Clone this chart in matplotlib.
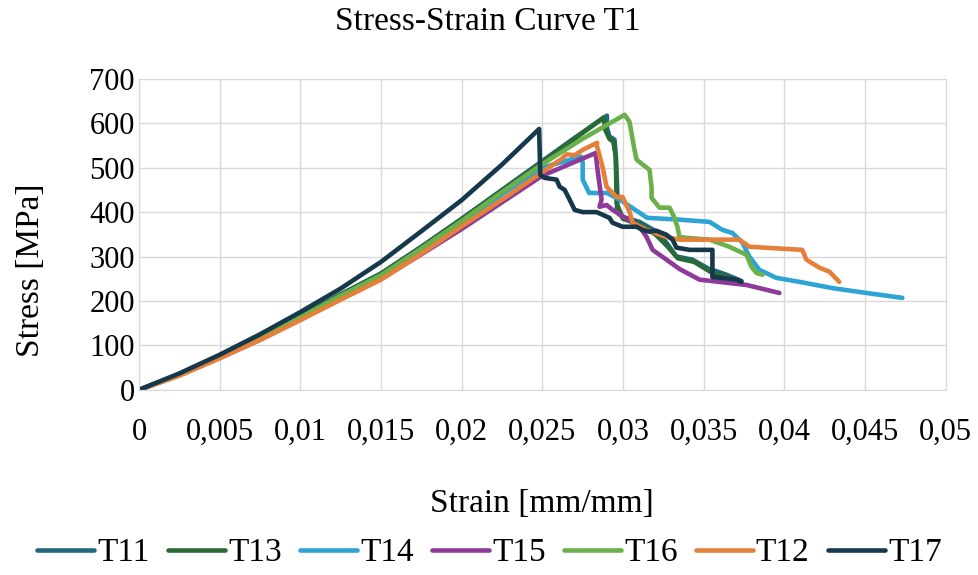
import matplotlib
matplotlib.use("Agg")
import matplotlib.pyplot as plt

plt.rcParams['font.family'] = ['Liberation Serif', 'DejaVu Serif']

# strain [mm/mm] and stress [MPa] for each specimen
t11_strain = [0, 0.0025, 0.005, 0.0075, 0.01, 0.0125, 0.015, 0.0175, 0.02, 0.0225, 0.025, 0.027, 0.029,
              0.0290, 0.02916, 0.02947, 0.02954, 0.0296, 0.02966, 0.0296, 0.02997, 0.03102, 0.03207,
              0.03269, 0.03331, 0.0343, 0.03533, 0.03554, 0.03641, 0.03734]
t11_stress = [0, 35, 76, 118, 165, 215, 262, 322, 385, 450, 515, 567, 617,
              590, 570, 563, 533, 488, 428, 400, 389, 378, 356,
              331, 300, 293, 272, 270, 259, 245]

t13_strain = [0, 0.0025, 0.005, 0.0075, 0.01, 0.0125, 0.015, 0.0175, 0.02, 0.0225, 0.025, 0.027, 0.0288,
              0.0289, 0.02915, 0.0294, 0.02955, 0.0296, 0.0300, 0.0310, 0.0320, 0.0327, 0.0334,
              0.0344, 0.0354, 0.0363, 0.0370]
t13_stress = [0, 35, 75, 117, 164, 214, 261, 321, 384, 448, 513, 565, 613,
              585, 565, 558, 525, 420, 385, 372, 350, 325, 296,
              288, 266, 255, 246]

t14_strain = [0, 0.0025, 0.005, 0.0075, 0.01, 0.0125, 0.015, 0.0175, 0.02, 0.0225, 0.025, 0.0274,
              0.0275, 0.0275, 0.0279, 0.029, 0.0298, 0.0315, 0.0335, 0.03536, 0.03616, 0.03678,
              0.0374, 0.03783, 0.03845, 0.0395, 0.04093, 0.04297, 0.04508, 0.04731]
t14_stress = [0, 34, 74, 116, 162, 210, 256, 316, 378, 440, 500, 525,
              511, 473, 443, 443, 428, 387, 383, 378, 360, 353,
              331, 300, 270, 252, 243, 229, 218, 207]

t15_strain = [0, 0.0025, 0.005, 0.0075, 0.01, 0.0125, 0.015, 0.0175, 0.02, 0.0225, 0.025, 0.0265, 0.0283,
              0.02842, 0.02867, 0.02854, 0.02898, 0.02935, 0.03102, 0.03146, 0.03183, 0.03269,
              0.0335, 0.03474, 0.03765, 0.03969]
t15_stress = [0, 33, 72, 113, 158, 205, 250, 305, 362, 422, 482, 505, 533,
              495, 428, 412, 416, 405, 367, 344, 315, 293,
              272, 248, 236, 218]

t16_strain = [0, 0.0025, 0.005, 0.0075, 0.01, 0.0125, 0.015, 0.0175, 0.02, 0.0225, 0.025, 0.0275, 0.0301,
              0.0304, 0.03071, 0.03084, 0.03164, 0.03177, 0.03177, 0.03226, 0.03288, 0.03319,
              0.03337, 0.0335, 0.03393, 0.03536, 0.03659, 0.03765, 0.03796, 0.03827, 0.03864]
t16_stress = [0, 34, 74, 117, 163, 212, 258, 318, 380, 445, 508, 565, 619,
              603, 540, 518, 495, 455, 432, 410, 410, 387,
              367, 344, 342, 338, 322, 304, 277, 263, 259]

t12_strain = [0, 0.0025, 0.005, 0.0075, 0.01, 0.0125, 0.015, 0.0175, 0.02, 0.0225, 0.025, 0.0262, 0.0265,
              0.027, 0.0275, 0.0284, 0.02836, 0.02873, 0.02898, 0.0296, 0.02997, 0.03041, 0.03059,
              0.03146, 0.03269, 0.0335, 0.03721, 0.03783, 0.04111, 0.04136, 0.04217, 0.04279, 0.0434]
t12_stress = [0, 32, 71, 112, 157, 203, 248, 306, 368, 428, 490, 520, 530,
              528, 540, 556, 552, 502, 457, 434, 434, 400, 376,
              360, 344, 338, 338, 322, 315, 293, 275, 266, 243]

t17_strain = [0, 0.0025, 0.005, 0.0075, 0.01, 0.0125, 0.015, 0.0175, 0.02, 0.0225, 0.0248,
              0.02487, 0.02514, 0.02588, 0.02607, 0.02638, 0.02669, 0.027, 0.02749, 0.02836,
              0.02873, 0.02916, 0.02935, 0.02997, 0.03084, 0.03121, 0.03164, 0.03207, 0.03269,
              0.03307, 0.03331, 0.03412, 0.03554, 0.03554, 0.03703, 0.03734]
t17_stress = [0, 37, 79, 125, 175, 228, 288, 357, 427, 507, 587,
              484, 477, 473, 457, 450, 428, 405, 400, 400,
              394, 387, 376, 367, 367, 360, 356, 358, 349,
              338, 320, 315, 315, 254, 248, 243]

names = ['T11', 'T13', 'T14', 'T15', 'T16', 'T12', 'T17']
colors = ['#22667f', '#2a6b35', '#2ea3d5', '#8e3a98', '#6bb04b', '#e5803b', '#15394b']
xticks = [0, 0.005, 0.01, 0.015, 0.02, 0.025, 0.03, 0.035, 0.04, 0.045, 0.05]
xtick_labels = ['0', '0,005', '0,01', '0,015', '0,02', '0,025', '0,03', '0,035', '0,04', '0,045', '0,05']
yticks = [0, 100, 200, 300, 400, 500, 600, 700]

series = [(t11_strain, t11_stress), (t13_strain, t13_stress), (t14_strain, t14_stress),
          (t15_strain, t15_stress), (t16_strain, t16_stress), (t12_strain, t12_stress),
          (t17_strain, t17_stress)]

fig = plt.figure(figsize=(9.79, 5.75), dpi=100)
ax = fig.add_axes([0.142, 0.322, 0.824, 0.541])

for (x, y), name, c in zip(series, names, colors):
    ax.plot(x, y, color=c, lw=3.3, label=name, solid_joinstyle='round', solid_capstyle='round')

ax.set_xlim(0, 0.05)
ax.set_ylim(0, 700)
ax.set_xticks(xticks)
ax.set_xticklabels(xtick_labels)
ax.set_yticks(yticks)
ax.tick_params(length=0, labelsize=22, colors='#000000')
ax.tick_params(axis='x', pad=20)
ax.tick_params(axis='y', pad=3)
ax.grid(True, color='#d9d9d9', lw=1)
ax.set_axisbelow(True)
for s in ax.spines.values():
    s.set_color('#d9d9d9')

fig.text(0.498, 0.962, 'Stress-Strain Curve T1', fontsize=24, ha='center', va='center')
ax.set_xlabel('Strain [mm/mm]', fontsize=24, labelpad=30)
fig.text(0.031, 0.53, 'Stress [MPa]', fontsize=24, rotation=90, ha='center', va='center')

fig.legend(loc='center', bbox_to_anchor=(0.5, 0.038), ncol=7, frameon=False, fontsize=24,
           handlelength=1.7, handletextpad=0.1, columnspacing=0.55)

fig.savefig('out.png', dpi=100)
